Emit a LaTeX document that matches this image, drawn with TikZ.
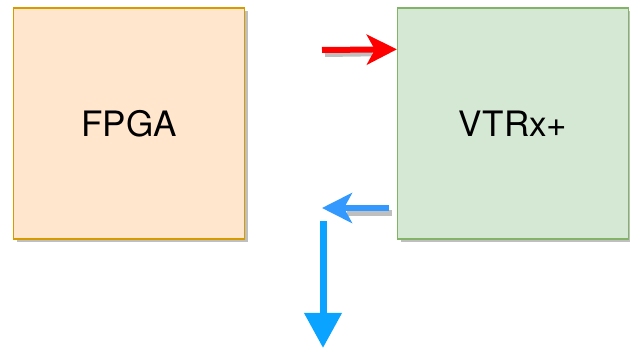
\documentclass[tikz,border=0pt]{standalone}
\usepackage{fontspec}
\setmainfont{TeX Gyre Heros}
\usetikzlibrary{arrows.meta,calc,shadows}

\definecolor{fpgafill}{HTML}{FFE6CC}
\definecolor{fpgaline}{HTML}{D79B00}
\definecolor{vtrxfill}{HTML}{D5E8D4}
\definecolor{vtrxline}{HTML}{82B366}
\definecolor{linkblue}{HTML}{3399FF}
\definecolor{downblue}{HTML}{0AA3FF}

\tikzset{
  block/.style={draw, line width=1.3pt, minimum width=231pt, minimum height=231pt,
    font=\fontsize{35}{42}\selectfont,
    drop shadow={shadow xshift=3pt, shadow yshift=-3pt, fill=black!25, opacity=1}},
  shadowline/.style={line width=6pt, black!25},
  flow/.style={line width=6pt, -{Stealth[length=30pt, width=30pt, inset=8pt]}}
}

\begin{document}
\begin{tikzpicture}[x=1pt, y=-1pt]
\useasboundingbox (0,0) rectangle (630,352);

\node[block, fill=fpgafill, draw=fpgaline] (fpga) at (129,123.5) {FPGA};
\node[block, fill=vtrxfill, draw=vtrxline] (vtrx) at (513,123.5) {VTRx+};

% link into the VTRx+
\coordinate (txstart) at (322,50);
\coordinate (txend) at ($(vtrx.north west)+(0,42)$);
\draw[shadowline] ($(txstart)+(3,4)$) -- ($(txend)+(-25,4)$);
\draw[flow, red] (txstart) -- (txend);

% link out of the VTRx+
\coordinate (rxstart) at ($(vtrx.west)+(-8,84.5)$);
\coordinate (rxend) at (322,208);
\draw[shadowline] ($(rxstart)+(3,5)$) -- ($(rxend)+(25,5)$);
\draw[flow, linkblue] (rxstart) -- (rxend);

% downward
\coordinate (downstart) at (323,221);
\coordinate (downend) at (323,348);
\draw[line width=7pt, downblue, -{Triangle[length=35pt, width=36pt]}] (downstart) -- (downend);

\end{tikzpicture}
\end{document}
